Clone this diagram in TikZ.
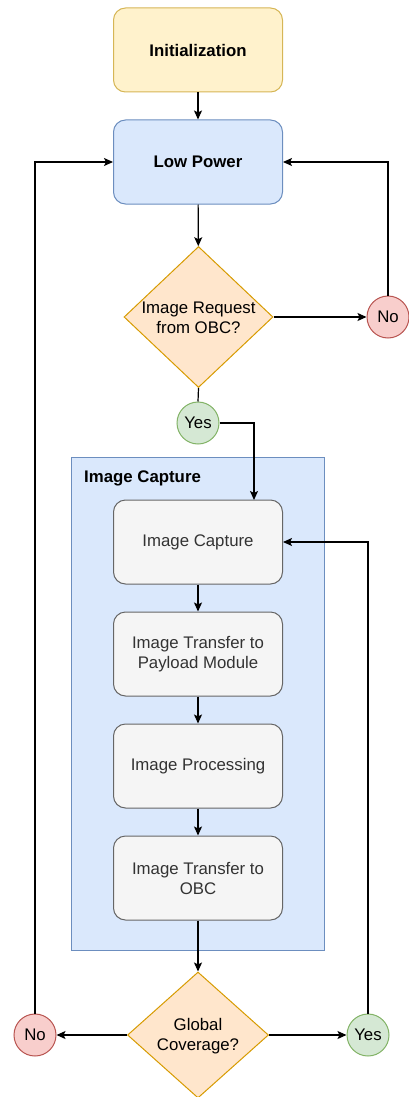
\documentclass[tikz,border=0pt]{standalone}
\usepackage{fontspec}
\setmainfont{Liberation Sans}
\usetikzlibrary{arrows.meta,shapes.geometric}
\definecolor{yfill}{HTML}{FFF2CC}\definecolor{ydraw}{HTML}{D6B656}
\definecolor{bfill}{HTML}{DAE8FC}\definecolor{bdraw}{HTML}{6C8EBF}
\definecolor{ofill}{HTML}{FFE6CC}\definecolor{odraw}{HTML}{D79B00}
\definecolor{rfill}{HTML}{F8CECC}\definecolor{rdraw}{HTML}{B85450}
\definecolor{gfill}{HTML}{D5E8D4}\definecolor{gdraw}{HTML}{82B366}
\definecolor{kfill}{HTML}{F5F5F5}\definecolor{kdraw}{HTML}{666666}
\definecolor{ktext}{HTML}{333333}
\begin{document}
\begin{tikzpicture}[x=1pt,y=-1pt,
  every node/.style={font=\fontsize{16.8}{20}\selectfont, inner sep=0pt, align=center},
  statebox/.style={rounded corners=12pt, line width=1pt, minimum width=169pt, minimum height=84pt},
  stepbox/.style={rounded corners=12pt, line width=1pt, minimum width=169pt, minimum height=84pt, fill=kfill, draw=kdraw, text=ktext},
  decision/.style={diamond, aspect=1, fill=ofill, draw=odraw, line width=1pt},
  yescirc/.style={circle, fill=gfill, draw=gdraw, line width=1pt, minimum size=42pt},
  nocirc/.style={circle, fill=rfill, draw=rdraw, line width=1pt, minimum size=42pt},
  conn/.style={line width=1.2pt, black},
  arr/.style={conn, -{Stealth[length=9pt,width=8pt,inset=2pt]}}
]
\useasboundingbox (0,0) rectangle (409,1097);
% container
\node[fill=bfill, draw=bdraw, line width=1pt, minimum width=253pt, minimum height=493pt, anchor=north west] (cont) at (71,457) {};
\node[anchor=west, font=\fontsize{16.8}{20}\selectfont\bfseries] (contlabel) at (84,478) {Image Capture};

\node[statebox, fill=yfill, draw=ydraw, font=\fontsize{16.8}{20}\selectfont\bfseries] (init) at (198,50) {Initialization};
\node[statebox, fill=bfill, draw=bdraw, font=\fontsize{16.8}{20}\selectfont\bfseries] (low) at (198,162) {Low Power};

\node[decision, minimum width=149pt, minimum height=141pt] (req) at (198.5,317) {};
\node (reqt) at (198.5,318) {Image Request\\from OBC?};
\node[nocirc] (no1) at (388,317) {No};
\node[yescirc] (yes1) at (198,423) {Yes};

\node[stepbox] (cap) at (198,542) {Image Capture};
\node[stepbox] (tp) at (198,654) {Image Transfer to\\Payload Module};
\node[stepbox] (proc) at (198,766) {Image Processing};
\node[stepbox] (to) at (198,878) {Image Transfer to\\OBC};

\node[decision, minimum width=141pt, minimum height=126pt] (glob) at (198,1035) {};
\node (globt) at (198,1036) {Global\\Coverage?};
\node[nocirc] (no2) at (35,1035) {No};
\node[yescirc] (yes2) at (368,1035) {Yes};

\coordinate (cin) at (254,500);
\draw[arr] (init) -- (low);
\draw[arr] (low) -- (req);
\draw[arr] (req.east) -- (no1);
\draw[arr] (no1.north) |- (low.east);
\draw[conn] (req.south) -- (yes1.north);
\draw[arr] (yes1.east) -| (cin);
\draw[arr] (cap) -- (tp);
\draw[arr] (tp) -- (proc);
\draw[arr] (proc) -- (to);
\draw[arr] (to) -- (glob.north);
\draw[arr] (glob.west) -- (no2);
\draw[arr] (glob.east) -- (yes2);
\draw[arr] (no2.north) |- (low.west);
\draw[arr] (yes2.north) |- (cap.east);
\end{tikzpicture}
\end{document}
